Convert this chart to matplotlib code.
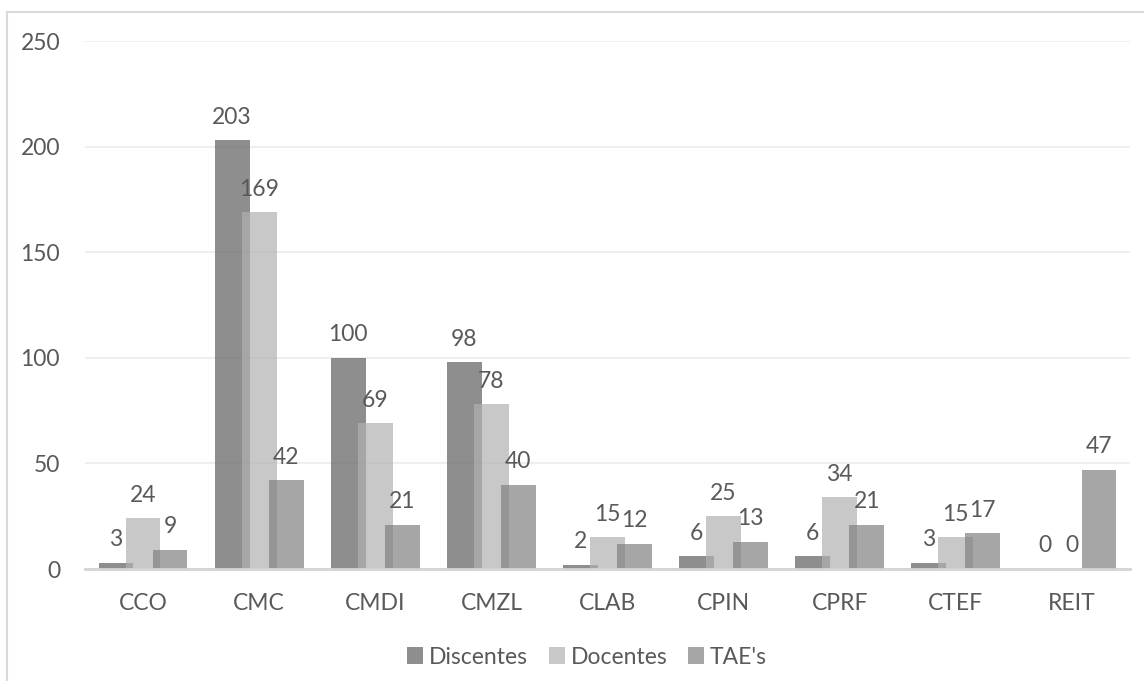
import numpy as np
import matplotlib
matplotlib.use("Agg")
import matplotlib.pyplot as plt
from matplotlib.lines import Line2D

categories = ["CCO", "CMC", "CMDI", "CMZL", "CLAB", "CPIN", "CPRF", "CTEF", "REIT"]
discentes = [3, 203, 100, 98, 2, 6, 6, 3, 0]
docentes = [24, 169, 69, 78, 15, 25, 34, 15, 0]
taes = [9, 42, 21, 40, 12, 13, 21, 17, 47]
series_names = ["Discentes", "Docentes", "TAE's"]

plt.rcParams["font.family"] = ["Lato", "DejaVu Sans"]
text_color = "#595959"
fs = 16.5

W, H = 1144, 681
fig = plt.figure(figsize=(W / 100, H / 100), dpi=100)
ax = fig.add_axes([85 / W, 1 - 569 / H, (1130 - 85) / W, (569 - 41) / H])

colors = ["#5f5f5f", "#b1b1b1", "#808080"]
alpha = 0.7
width = 0.30
step = 0.2325
x = np.arange(len(categories))

for i, (vals, name) in enumerate(zip([discentes, docentes, taes], series_names)):
    pos = x + (i - 1) * step
    bars = ax.bar(pos, vals, width, color=colors[i], alpha=alpha, label=name, zorder=2 + i)
    for b, v in zip(bars, vals):
        ax.annotate(str(v), (b.get_x() + b.get_width() / 2, v),
                    xytext=(0, 9), textcoords="offset points",
                    ha="center", va="bottom", fontsize=fs, color=text_color, zorder=10)

ax.set_xlim(-0.5, len(categories) - 0.5)
ax.set_ylim(0, 250)
ax.set_yticks(range(0, 251, 50))
ax.set_xticks(x)
ax.set_xticklabels(categories)
ax.yaxis.grid(True, color="#ececec", linewidth=1.2, zorder=0)
ax.set_axisbelow(True)
for s in ["top", "right", "left"]:
    ax.spines[s].set_visible(False)
ax.spines["bottom"].set_color("#d4d4d4")
ax.spines["bottom"].set_linewidth(2)
ax.spines["bottom"].set_zorder(20)
ax.tick_params(axis="both", length=0, labelsize=fs, colors=text_color)
ax.tick_params(axis="x", pad=17)
ax.tick_params(axis="y", pad=18)

# chart border (top and left edges visible)
fig.add_artist(Line2D([7 / W, 7 / W], [0, 1 - 12 / H], transform=fig.transFigure,
                      color="#d9d9d9", linewidth=1.5))
fig.add_artist(Line2D([7 / W, 1], [1 - 12 / H, 1 - 12 / H], transform=fig.transFigure,
                      color="#d9d9d9", linewidth=1.5))

handles, labels = ax.get_legend_handles_labels()
fig.legend(handles, labels, loc="center", bbox_to_anchor=(587 / W, 1 - 657 / H),
           ncol=3, frameon=False, fontsize=fs, labelcolor=text_color,
           handlelength=0.7, handleheight=0.7, handletextpad=0.25, columnspacing=0.9)

fig.savefig("out.png", dpi=100)
